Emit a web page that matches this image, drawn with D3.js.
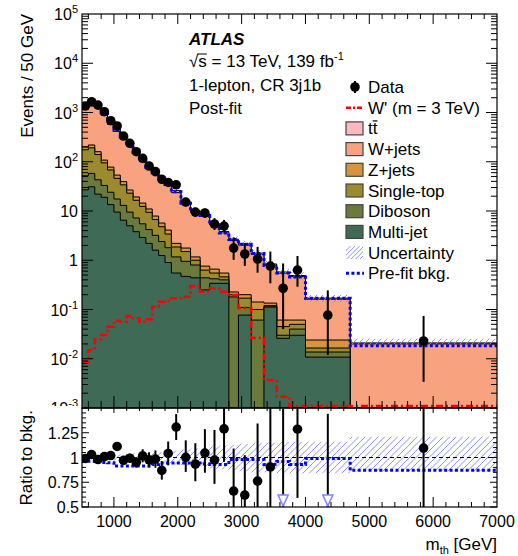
<!DOCTYPE html>
<html>
<head>
<meta charset="utf-8">
<script src="https://cdn.jsdelivr.net/npm/d3@7/dist/d3.min.js"></script>
<style>
body { margin: 0; background: #fff; }
text { font-family: "Liberation Sans", Arial, Helvetica, sans-serif; fill: #000; }
</style>
</head>
<body>
<svg id="chart" width="518" height="556"></svg>
<script>
// Bin edges (GeV), variable width
const binEdges = [500, 600, 700, 800, 900, 1000, 1100, 1200, 1300, 1400, 1500, 1600, 1700, 1800, 1900,
    2050, 2200, 2350, 2500, 2650, 2800, 2950, 3150, 3350, 3550, 3750, 4000, 4700, 7000];

// Background components, events / 50 GeV (stacked bottom to top)
const multijet  = [27, 31, 22, 19, 13.5, 9.5, 6.5, 5.0, 3.8, 2.9, 2.2, 1.6, 1.25, 0.9, 0.55, 0.47, 0.44, 0.25, 0.34, 0.34, 0, 0.077, 0, 0.112, 0.026, 0.030, 0.0108, 0];
const diboson   = [25, 27, 21, 14, 10.5, 8, 6.5, 4.5, 3.4, 2.6, 2.0, 1.6, 1.15, 0.9, 0.62, 0.48, 0.36, 0.19, 0.08, 0.06, 0.18, 0.033, 0.061, 0.001, 0.004, 0.010, 0.0029, 0];
const singleTop = [123, 134, 97, 62, 44, 28.5, 21, 13.5, 9.3, 6.9, 5.2, 3.5, 2.4, 1.6, 0.69, 0.55, 0.2, 0.19, 0.13, 0.06, 0.02, 0.06, 0.039, 0.007, 0.015, 0.01, 0.0028, 0];
const zjets     = [25, 27, 20, 13, 10, 7.5, 5.6, 3.7, 2.8, 2.1, 1.6, 1.2, 0.9, 0.7, 0.34, 0.27, 0.17, 0.13, 0.11, 0.09, 0.027, 0.03, 0.042, 0.015, 0.016, 0.011, 0.0075, 0];
const wjets     = [954, 1139, 1064, 765, 495, 360, 258, 182, 129, 87.5, 64, 49.6, 39.9, 28.9, 21.4, 12.1, 8.2, 7.3, 4.54, 3.03, 2.28, 1.83, 1.17, 0.66, 0.486, 0.404, 0.138, 0.020];
const ttbar     = [215, 250, 220, 155, 95, 65, 45, 30, 20, 13, 9, 6.5, 5, 3.5, 2.4, 1.3, 0.8, 0.65, 0.4, 0.26, 0.17, 0.13, 0.08, 0.045, 0.03, 0.025, 0.008, 0.001];

// Data
const data        = [1355, 1656, 1415, 1038, 681, 532, 333, 237, 160, 117, 82, 63, 44, 38, 34, 15.2, 9.5, 9.1, 5.45, 4.95, 1.77, 1.34, 1.06, 0.76, 0.27, 0.63, 0.077, 0.023];
const dataErrUp   = [26, 29, 27, 23, 18, 16, 13, 11, 9, 7.6, 6.4, 5.6, 4.7, 4.4, 3.4, 2.6, 2.14, 2.1, 1.71, 1.65, 1.15, 0.87, 0.81, 0.74, 0.59, 0.59, 0.168, 0.051];
const dataErrDown = [26, 29, 27, 23, 18, 16, 13, 11, 9, 7.6, 6.4, 5.6, 4.7, 4.4, 3.4, 2.24, 1.77, 1.73, 1.34, 1.28, 0.75, 0.57, 0.5, 0.42, 0.23, 0.34, 0.065, 0.0196];

// W' (m = 3 TeV) signal
const signal = [0.0087, 0.0151, 0.0248, 0.0304, 0.0448, 0.0593, 0.0565, 0.0738, 0.0663, 0.0565, 0.0633, 0.114, 0.144, 0.149, 0.169, 0.182, 0.30, 0.23, 0.27, 0.23, 0.197, 0.107, 0.0264, 0.0037, 0.0017, 0.0011, 0.0011, 0.0011];

// Pre-fit / post-fit background, and relative uncertainty
const prefitRatio = [0.963, 0.963, 0.96, 0.95, 0.947, 0.915, 0.915, 0.915, 0.915, 0.915, 0.915, 0.93, 0.945, 0.945, 0.945, 0.945, 0.945, 0.935, 0.93, 0.93, 0.98, 0.98, 0.98, 0.93, 0.96, 0.93, 0.99, 0.87];
const uncUp   = [0.03, 0.03, 0.03, 0.03, 0.03, 0.03, 0.035, 0.035, 0.04, 0.04, 0.045, 0.05, 0.055, 0.06, 0.07, 0.08, 0.09, 0.1, 0.11, 0.12, 0.13, 0.14, 0.15, 0.15, 0.16, 0.16, 0.16, 0.21];
const uncDown = [0.03, 0.03, 0.03, 0.03, 0.03, 0.03, 0.035, 0.035, 0.04, 0.04, 0.045, 0.05, 0.055, 0.06, 0.07, 0.08, 0.09, 0.1, 0.11, 0.12, 0.13, 0.14, 0.15, 0.15, 0.16, 0.16, 0.16, 0.14];

// Tick labels
const xTickValues = [1000, 2000, 3000, 4000, 5000, 6000, 7000];
const yExponents = [-3, -2, -1, 0, 1, 2, 3, 4, 5];
const ratioTickValues = [0.5, 0.75, 1, 1.25];
const ratioTickLabels = ["0.5", "0.75", "1", "1.25"];

const svg = d3.select("#chart");
const left = 82, right = 497, mainTop = 14, mainBottom = 408, ratioBottom = 507;
const hatchColor = "#8585ff";

const x = d3.scaleLinear().domain([500, 7000]).range([left, right]);
const y = d3.scaleLog().domain([1e-3, 1e5]).range([mainBottom, mainTop]).clamp(true);
const yr = d3.scaleLinear().domain([0.5, 1.5]).range([ratioBottom, mainBottom]);

const nBins = data.length;
const centers = binEdges.slice(0, -1).map((e, i) => (e + binEdges[i + 1]) / 2);

const layers = [
    {name: "Multi-jet", values: multijet, color: "#3e6a56"},
    {name: "Diboson", values: diboson, color: "#6a7a3c"},
    {name: "Single-top", values: singleTop, color: "#9b8a2e"},
    {name: "Z+jets", values: zjets, color: "#d6943f"},
    {name: "W+jets", values: wjets, color: "#f8a27f"},
    {name: "tt", values: ttbar, color: "#ffb8c0"}
];
let running = new Array(nBins).fill(0);
layers.forEach(l => {
    running = running.map((r, i) => r + l.values[i]);
    l.cum = running.slice();
});
const total = layers[layers.length - 1].cum;

const safe = v => Math.max(v, 1e-5);
function stepPoints(vals) {
    const pts = vals.map((v, i) => [binEdges[i], v]);
    pts.push([binEdges[nBins], vals[nBins - 1]]);
    return pts;
}
const stepLine = d3.line().curve(d3.curveStepAfter).x(d => x(d[0])).y(d => y(safe(d[1])));
const stepArea = d3.area().curve(d3.curveStepAfter).x(d => x(d[0])).y0(mainBottom).y1(d => y(safe(d[1])));
const bandArea = d3.area().curve(d3.curveStepAfter).x(d => x(d[0])).y0(d => y(safe(d[1]))).y1(d => y(safe(d[2])));

// defs: clips
const defs = svg.append("defs");
defs.append("clipPath").attr("id", "clipMain").append("rect")
    .attr("x", left).attr("y", mainTop).attr("width", right - left).attr("height", mainBottom - mainTop);
defs.append("clipPath").attr("id", "clipRatio").append("rect")
    .attr("x", left).attr("y", mainBottom).attr("width", right - left).attr("height", ratioBottom - mainBottom);

// hatched fill: diagonal lines clipped to a shape
let hatchCount = 0;
function hatchFill(parent, shapeD, x0, y0, x1, y1, gap) {
    const id = "hatchClip" + (hatchCount++);
    defs.append("clipPath").attr("id", id).append("path").attr("d", shapeD);
    const g = parent.append("g").attr("clip-path", `url(#${id})`);
    const h = y1 - y0;
    for (let k = x0 - h; k <= x1; k += gap) {
        g.append("line").attr("x1", k).attr("y1", y1).attr("x2", k + h).attr("y2", y0)
            .attr("stroke", hatchColor).attr("stroke-width", 0.9);
    }
}

// ---------- main panel ----------
const gMain = svg.append("g").attr("clip-path", "url(#clipMain)");

layers.slice().reverse().forEach(l => {
    gMain.append("path").attr("d", stepArea(stepPoints(l.cum))).attr("fill", l.color);
    gMain.append("path").attr("d", stepLine(stepPoints(l.cum)))
        .attr("fill", "none").attr("stroke", "#000").attr("stroke-width", 1);
});

// uncertainty band
const bandPts = total.map((t, i) => [binEdges[i], t * (1 - uncDown[i]), t * (1 + uncUp[i])]);
bandPts.push([binEdges[nBins], bandPts[nBins - 1][1], bandPts[nBins - 1][2]]);
hatchFill(gMain, bandArea(bandPts), left, mainTop, right, mainBottom, 6);

// signal
gMain.append("path").attr("d", stepLine(stepPoints(signal)))
    .attr("fill", "none").attr("stroke", "#ff0000").attr("stroke-width", 2.6)
    .attr("stroke-dasharray", "7,3,2,3");

// pre-fit
const prefit = total.map((t, i) => t * prefitRatio[i]);
gMain.append("path").attr("d", stepLine(stepPoints(prefit)))
    .attr("fill", "none").attr("stroke", "#0000ff").attr("stroke-width", 3)
    .attr("stroke-dasharray", "3,2.4");

// data
data.forEach((d, i) => {
    const cx = x(centers[i]);
    gMain.append("line").attr("x1", cx).attr("x2", cx)
        .attr("y1", y(safe(d - dataErrDown[i]))).attr("y2", y(d + dataErrUp[i]))
        .attr("stroke", "#000").attr("stroke-width", 2);
    gMain.append("circle").attr("cx", cx).attr("cy", y(d)).attr("r", 4.8).attr("fill", "#000");
});

// ---------- ratio panel ----------
const gRatio = svg.append("g").attr("clip-path", "url(#clipRatio)");
const ratioBand = d3.area().curve(d3.curveStepAfter).x(d => x(d[0])).y0(d => yr(d[1])).y1(d => yr(d[2]));
const rBandPts = uncUp.map((u, i) => [binEdges[i], 1 - uncDown[i], 1 + u]);
rBandPts.push([binEdges[nBins], 1 - uncDown[nBins - 1], 1 + uncUp[nBins - 1]]);
hatchFill(gRatio, ratioBand(rBandPts), left, mainBottom, right, ratioBottom, 6.5);

gRatio.append("line").attr("x1", left).attr("x2", right).attr("y1", yr(1)).attr("y2", yr(1))
    .attr("stroke", "#000").attr("stroke-width", 1).attr("stroke-dasharray", "4,3");

const ratioLine = d3.line().curve(d3.curveStepAfter).x(d => x(d[0])).y(d => yr(d[1]));
gRatio.append("path").attr("d", ratioLine(stepPoints(prefitRatio)))
    .attr("fill", "none").attr("stroke", "#0000ff").attr("stroke-width", 3)
    .attr("stroke-dasharray", "3,2.4");

data.forEach((d, i) => {
    const cx = x(centers[i]);
    const r = d / total[i];
    gRatio.append("line").attr("x1", cx).attr("x2", cx)
        .attr("y1", yr((d - dataErrDown[i]) / total[i])).attr("y2", yr((d + dataErrUp[i]) / total[i]))
        .attr("stroke", "#000").attr("stroke-width", 2);
    if (r < 0.5) {
        gRatio.append("path")
            .attr("d", `M${cx - 5},${ratioBottom - 12} L${cx + 5},${ratioBottom - 12} L${cx},${ratioBottom - 1} Z`)
            .attr("fill", "#fff").attr("stroke", hatchColor).attr("stroke-width", 1.6);
    } else {
        gRatio.append("circle").attr("cx", cx).attr("cy", yr(r)).attr("r", 4.8).attr("fill", "#000");
    }
});

// ---------- axes ----------
const gAxes = svg.append("g").attr("stroke", "#000").attr("stroke-width", 1);
function tick(x1, y1, x2, y2) {
    gAxes.append("line").attr("x1", x1).attr("y1", y1).attr("x2", x2).attr("y2", y2);
}
function xTicks(yPos, dir, majorLen, minorLen) {
    d3.range(600, 7000, 200).forEach(v => {
        const len = v % 1000 === 0 ? majorLen : minorLen;
        tick(x(v), yPos, x(v), yPos + dir * len);
    });
}
xTicks(mainTop, 1, 10, 5);
xTicks(mainBottom, -1, 12, 7);
xTicks(mainBottom, 1, 5, 3);
xTicks(ratioBottom, -1, 10, 5);

yExponents.forEach(e => {
    const v = Math.pow(10, e);
    if (e > -3 && e < 5) {
        tick(left, y(v), left + 11, y(v));
        tick(right, y(v), right - 11, y(v));
    }
    if (e < 5) {
        for (let m = 2; m <= 9; m++) {
            const mv = m * v;
            tick(left, y(mv), left + 6, y(mv));
            tick(right, y(mv), right - 6, y(mv));
        }
    }
});
d3.range(0, 21).forEach(k => {
    const v = 0.5 + k * 0.05;
    const major = k % 5 === 0;
    const len = major ? 7 : 4;
    tick(left, yr(v), left + len, yr(v));
    tick(right, yr(v), right - len, yr(v));
});

svg.append("rect").attr("x", left).attr("y", mainTop).attr("width", right - left).attr("height", mainBottom - mainTop)
    .attr("fill", "none").attr("stroke", "#000").attr("stroke-width", 1.2);

// y labels main
yExponents.forEach(e => {
    const t = svg.append("text").attr("x", 78).attr("y", y(Math.pow(10, e)) + 6)
        .attr("text-anchor", "end").attr("font-size", 16);
    if (e === 0) t.text("1");
    else if (e === 1) t.text("10");
    else {
        t.append("tspan").text("10");
        t.append("tspan").attr("font-size", 11).attr("dy", -7).text(String(e));
    }
});

// lower pad covers the bottom of the main pad labels
svg.append("rect").attr("x", 0).attr("y", 406).attr("width", left - 1).attr("height", 150).attr("fill", "#fff");

svg.append("rect").attr("x", left).attr("y", mainBottom).attr("width", right - left).attr("height", ratioBottom - mainBottom)
    .attr("fill", "none").attr("stroke", "#000").attr("stroke-width", 1.2);

ratioTickValues.forEach((v, i) => {
    svg.append("text").attr("x", 79).attr("y", yr(v) + 6).attr("text-anchor", "end")
        .attr("font-size", 16).text(ratioTickLabels[i]);
});
xTickValues.forEach(v => {
    svg.append("text").attr("x", x(v)).attr("y", 527).attr("text-anchor", "middle")
        .attr("font-size", 16).text(v);
});

// axis titles
svg.append("text").attr("transform", `translate(33,${mainTop}) rotate(-90)`)
    .attr("text-anchor", "end").attr("font-size", 17).text("Events / 50 GeV");
svg.append("text").attr("transform", `translate(32,${mainBottom + 2}) rotate(-90)`)
    .attr("text-anchor", "end").attr("font-size", 17).text("Ratio to bkg.");
const xt = svg.append("text").attr("x", right).attr("y", 550).attr("text-anchor", "end").attr("font-size", 17);
xt.append("tspan").text("m");
xt.append("tspan").attr("font-size", 11).attr("dy", 4).text("th");
xt.append("tspan").attr("dy", -4).text(" [GeV]");

// ---------- labels ----------
svg.append("text").attr("x", 189).attr("y", 45).attr("font-size", 17)
    .attr("font-weight", "bold").attr("font-style", "italic").text("ATLAS");
const rs = svg.append("text").attr("x", 189).attr("y", 67).attr("font-size", 17);
rs.append("tspan").text("\u221As = 13 TeV, 139 fb");
rs.append("tspan").attr("font-size", 11).attr("dy", -7).text("-1");
const rsNode = rs.node();
const e0 = rsNode.getExtentOfChar(0), e1 = rsNode.getExtentOfChar(1);
svg.append("line").attr("x1", e0.x + e0.width - 1).attr("x2", e1.x + e1.width)
    .attr("y1", 67 - 13).attr("y2", 67 - 13).attr("stroke", "#000").attr("stroke-width", 1);
svg.append("text").attr("x", 189).attr("y", 91).attr("font-size", 17).text("1-lepton, CR 3j1b");
svg.append("text").attr("x", 189).attr("y", 114).attr("font-size", 17).text("Post-fit");

// ---------- legend ----------
const legX = 346, legTextX = 368, legY0 = 87, legStep = 20.7;
const legend = [
    {label: "Data", type: "data"},
    {label: "W' (m = 3 TeV)", type: "signal"},
    {label: "tt", type: "box", color: layers[5].color},
    {label: "W+jets", type: "box", color: layers[4].color},
    {label: "Z+jets", type: "box", color: layers[3].color},
    {label: "Single-top", type: "box", color: layers[2].color},
    {label: "Diboson", type: "box", color: layers[1].color},
    {label: "Multi-jet", type: "box", color: layers[0].color},
    {label: "Uncertainty", type: "hatch"},
    {label: "Pre-fit bkg.", type: "prefit"}
];
legend.forEach((d, i) => {
    const cy = legY0 + i * legStep;
    if (d.type === "data") {
        svg.append("line").attr("x1", 355).attr("x2", 355).attr("y1", cy - 6).attr("y2", cy + 6)
            .attr("stroke", "#000").attr("stroke-width", 2);
        svg.append("circle").attr("cx", 355).attr("cy", cy).attr("r", 4.8).attr("fill", "#000");
    } else if (d.type === "signal") {
        svg.append("line").attr("x1", legX).attr("x2", legX + 18).attr("y1", cy).attr("y2", cy)
            .attr("stroke", "#ff0000").attr("stroke-width", 2.6).attr("stroke-dasharray", "5,2,2,2");
    } else if (d.type === "box") {
        svg.append("rect").attr("x", legX).attr("y", cy - 6.5).attr("width", 17).attr("height", 13)
            .attr("fill", d.color).attr("stroke", "#444").attr("stroke-width", 1.2);
    } else if (d.type === "hatch") {
        const bx = legX, by = cy - 6.5;
        hatchFill(svg, `M${bx},${by}h17v13h-17Z`, bx, by, bx + 17, by + 13, 4.5);
    } else {
        svg.append("line").attr("x1", legX).attr("x2", legX + 18).attr("y1", cy).attr("y2", cy)
            .attr("stroke", "#0000ff").attr("stroke-width", 3).attr("stroke-dasharray", "3,2.4");
    }
    const t = svg.append("text").attr("x", legTextX).attr("y", cy + 6).attr("font-size", 17).text(d.label);
    if (d.label === "tt") {
        const ex = t.node().getExtentOfChar(1);
        svg.append("line").attr("x1", ex.x).attr("x2", ex.x + ex.width)
            .attr("y1", cy - 7.5).attr("y2", cy - 7.5).attr("stroke", "#000").attr("stroke-width", 1.2);
    }
});
</script>
</body>
</html>
